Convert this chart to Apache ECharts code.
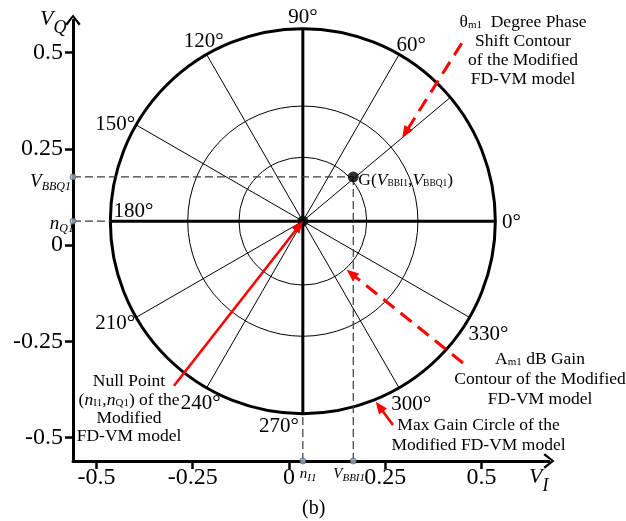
<!DOCTYPE html>
<html><head><meta charset="utf-8">
<script src="https://cdn.jsdelivr.net/npm/echarts@6/dist/echarts.min.js"></script>
<style>html,body{margin:0;padding:0;background:#fff}#c{width:626px;height:521px}</style>
</head><body><div id="c"></div>
<script>
// ---------------- data ----------------
const xTickValues = [-0.5, -0.25, 0, 0.25, 0.5];
const xTickLabels = ['-0.5', '-0.25', '0', '0.25', '0.5'];
const yTickValues = [-0.5, -0.25, 0, 0.25, 0.5];
const yTickLabels = ['-0.5', '-0.25', '0', '0.25', '0.5'];
const nullPoint = [0.036, 0.062];      // (nI1, nQ1)
const gPoint = [0.167, 0.177];         // (VBBI1, VBBQ1)
const gainCircleRadii = [0.166, 0.299];
const maxGainRadius = 0.5;
const thinSpokeAngles = [60, 120, 150, 210, 240, 300, 330];
const thickSpokeAngles = [0, 90, 180, 270];
const phaseContourAngle = 40;
const angleLabelValues = [0, 60, 90, 120, 150, 180, 210, 240, 270, 300, 330];

// ---------------- layout / style ----------------
const FONT = '"Liberation Serif", "Times New Roman", serif';
const X_MIN = -0.561, X_MAX = 0.6754, Y_MIN = -0.561, Y_MAX = 0.5845;
const angleLabelOffset = {0:[16,1],60:[12,-9],90:[0,-11],120:[-3,-13],150:[-21,0],180:[23,-10],
  210:[-21,6],240:[-6,16],270:[-24,13],300:[12,17],330:[19,17]};
const ARROW = 'path://M0,10 L8,0 L16,10 L14,11.5 L8,3.2 L2,11.5 Z';

function polar(angleDeg, r) {
  const a = angleDeg * Math.PI / 180;
  return [nullPoint[0] + r * Math.cos(a), nullPoint[1] + r * Math.sin(a)];
}
function lab(vals, labs, v) {
  for (let i = 0; i < vals.length; i++) if (Math.abs(vals[i] - v) < 1e-9) return labs[i];
  return '';
}
function T(extra) { return Object.assign({fontFamily: FONT, fill: '#000'}, extra); }
const rich = {
  r: T({fontSize: 17.5}),
  i: T({fontSize: 17.5, fontStyle: 'italic'}),
  s: T({fontSize: 11, padding: [7, 0, 0, 0]}),
  si: T({fontSize: 11, fontStyle: 'italic', padding: [7, 0, 0, 0]}),
  g: T({fontSize: 17.5}),
  gv: T({fontSize: 17.5, fontStyle: 'italic'}),
  gs: T({fontSize: 9.5, padding: [5, 0, 0, 0]}),
  av: T({fontSize: 19, fontStyle: 'italic'}),
  as: T({fontSize: 12, fontStyle: 'italic', padding: [9, 0, 0, 0]}),
  xv: T({fontSize: 15, fontStyle: 'italic'}),
  xs: T({fontSize: 11, fontStyle: 'italic', padding: [8, 0, 0, 0]}),
  nv: T({fontSize: 22, fontStyle: 'italic'}),
  ns: T({fontSize: 18, fontStyle: 'italic', padding: [18, 0, 0, 0]})
};

// annotations: text lines (pixel layout), arrow tail (pixel), arrow tip from data
const annotations = [
  {lines: ['{r|θ}{s|m1}{r|  Degree Phase}', '{r|Shift Contour}', '{r|of the Modified}', '{r|FD-VM model}'],
   cx: 523, y0: 22, lh: 19.3, tail: [461.7, 43.3], tip: () => polar(phaseContourAngle, 0.337), dashed: true},
  {lines: ['{r|A}{s|m1}{r| dB Gain}', '{r|Contour of the Modified}', '{r|FD-VM model}'],
   cx: 540, y0: 359, lh: 20, tail: [463, 363], tip: () => polar(-48, gainCircleRadii[0] + 0.004), dashed: true},
  {lines: ['{r|Max Gain Circle of the}', '{r|Modified FD-VM model}'],
   cx: 478.5, y0: 425.7, lh: 20, tail: [393, 425], tip: () => polar(-68, maxGainRadius + 0.006), dashed: false},
  {lines: ['{r|Null Point}', '{r|(}{i|n}{s|I1}{r|,}{i|n}{s|Q1}{r|) of the}', '{r|Modified}', '{r|FD-VM model}'],
   cx: 129, y0: 381.7, lh: 18.3, tail: [174, 385.7], tip: () => nullPoint, dashed: false}
];

function arrowEls(p0, p1, dashed) {
  const dx = p1[0] - p0[0], dy = p1[1] - p0[1], L = Math.hypot(dx, dy), ux = dx / L, uy = dy / L;
  const hl = 12, hw = 5;
  const bx = p1[0] - ux * hl, by = p1[1] - uy * hl;
  return [
    {type: 'line', shape: {x1: p0[0], y1: p0[1], x2: bx + ux * 1, y2: by + uy * 1},
     style: {stroke: '#ff0000', lineWidth: dashed ? 3 : 2.6, lineDash: dashed ? [14, 8] : null}},
    {type: 'polygon', shape: {points: [[p1[0], p1[1]], [bx - uy * hw, by + ux * hw], [bx + uy * hw, by - ux * hw]]},
     style: {fill: '#ff0000'}}
  ];
}

const chart = echarts.init(document.getElementById('c'), null, {renderer: 'canvas'});

const axisCommon = {
  type: 'value', splitLine: {show: false},
  axisLine: {onZero: false, symbol: ['none', ARROW], symbolSize: [16, 11], lineStyle: {color: '#000', width: 3}},
  axisTick: {length: 8, lineStyle: {color: '#000', width: 2.5}}
};

const option = {
  animation: false,
  backgroundColor: '#fff',
  textStyle: {fontFamily: FONT},
  grid: {left: 73, top: 20, width: 476, height: 441, containLabel: false, outerBoundsMode: 'none'},
  xAxis: Object.assign({}, axisCommon, {
    min: X_MIN, max: X_MAX,
    axisTick: Object.assign({}, axisCommon.axisTick, {customValues: xTickValues}),
    axisLabel: {customValues: xTickValues, formatter: v => lab(xTickValues, xTickLabels, v),
      fontSize: 24, color: '#000', fontFamily: FONT, margin: 5}
  }),
  yAxis: Object.assign({}, axisCommon, {
    min: Y_MIN, max: Y_MAX,
    axisTick: Object.assign({}, axisCommon.axisTick, {customValues: yTickValues}),
    axisLabel: {customValues: yTickValues, formatter: v => lab(yTickValues, yTickLabels, v),
      fontSize: 24, color: '#000', fontFamily: FONT, margin: 10}
  }),
  series: [
    { // gain circles + max gain circle
      type: 'custom', coordinateSystem: 'cartesian2d', z: 2,
      data: gainCircleRadii.concat([maxGainRadius]),
      renderItem: (params, api) => {
        const r = api.value(0);
        const c = api.coord(nullPoint);
        const rp = api.size([r, 0])[0];
        return {type: 'circle', shape: {cx: c[0], cy: c[1], r: rp},
          style: {fill: 'none', stroke: '#000', lineWidth: r === maxGainRadius ? 3 : 1}};
      }
    },
    { // thin spokes incl. phase contour
      type: 'custom', coordinateSystem: 'cartesian2d', z: 2,
      data: thinSpokeAngles.concat([phaseContourAngle]),
      renderItem: (params, api) => {
        const c = api.coord(nullPoint), e = api.coord(polar(api.value(0), maxGainRadius));
        return {type: 'line', shape: {x1: c[0], y1: c[1], x2: e[0], y2: e[1]}, style: {stroke: '#000', lineWidth: 1}};
      }
    },
    { // thick spokes
      type: 'custom', coordinateSystem: 'cartesian2d', z: 3,
      data: thickSpokeAngles,
      renderItem: (params, api) => {
        const c = api.coord(nullPoint), e = api.coord(polar(api.value(0), maxGainRadius));
        return {type: 'line', shape: {x1: c[0], y1: c[1], x2: e[0], y2: e[1]}, style: {stroke: '#000', lineWidth: 3}};
      }
    },
    { // angle labels
      type: 'custom', coordinateSystem: 'cartesian2d', z: 4,
      data: angleLabelValues,
      renderItem: (params, api) => {
        const a = api.value(0), p = api.coord(polar(a, maxGainRadius)), o = angleLabelOffset[a] || [0, 0];
        return {type: 'text', x: p[0] + o[0], y: p[1] + o[1],
          style: {text: a + '°', fontFamily: FONT, fontSize: 21, fill: '#000', align: 'center', verticalAlign: 'middle'}};
      }
    },
    { // dashed projection lines and axis labels
      type: 'custom', coordinateSystem: 'cartesian2d', z: 3,
      data: [0],
      renderItem: (params, api) => {
        const st = {stroke: '#3a3a3a', lineWidth: 1.2, lineDash: [8, 4]};
        const g = api.coord(gPoint);
        const gy0 = api.coord([X_MIN, gPoint[1]]), gx0 = api.coord([gPoint[0], Y_MIN]);
        const ny0 = api.coord([X_MIN, nullPoint[1]]), nl = api.coord([nullPoint[0] - maxGainRadius, nullPoint[1]]);
        const nx0 = api.coord([nullPoint[0], Y_MIN]), nb = api.coord([nullPoint[0], nullPoint[1] - maxGainRadius]);
        const L = (a, b) => ({type: 'line', shape: {x1: a[0], y1: a[1], x2: b[0], y2: b[1]}, style: st});
        const txt = (x, y, text, align) => ({type: 'text', x, y,
          style: {text, rich, align, verticalAlign: 'middle'}});
        return {type: 'group', children: [
          L(gy0, g), L(gx0, g), L(ny0, nl), L(nx0, nb),
          txt(gy0[0] - 2, gy0[1] + 5, '{av|V}{as|BBQ1}', 'right'),
          txt(ny0[0] + 1, ny0[1] + 3, '{av|n}{as|Q1}', 'right'),
          txt(nx0[0] - 3, nx0[1] + 13, '{xv|n}{xs|I1}', 'left'),
          txt(gx0[0] - 20, gx0[1] + 13, '{xv|V}{xs|BBI1}', 'left'),
          txt(g[0] + 5, g[1] + 4, '{g|G(}{gv|V}{gs|BBI1}{g|,}{gv|V}{gs|BBQ1}{g|)}', 'left')
        ]};
      }
    },
    { // null point and G point
      type: 'scatter', z: 5, symbol: 'circle', symbolSize: 11,
      itemStyle: {color: '#000'},
      data: [nullPoint, gPoint]
    },
    { // small markers on the axes
      type: 'scatter', z: 6, symbol: 'circle', symbolSize: 6,
      itemStyle: {color: '#9db2cc', borderColor: '#3d4a5c', borderWidth: 0.8},
      data: [[X_MIN, nullPoint[1]], [X_MIN, gPoint[1]], [nullPoint[0], Y_MIN], [gPoint[0], Y_MIN]]
    },
    { // annotations
      type: 'custom', coordinateSystem: 'cartesian2d', z: 7,
      data: annotations.map((a, i) => i),
      renderItem: (params, api) => {
        const an = annotations[api.value(0)];
        const children = arrowEls(an.tail, api.coord(an.tip()), an.dashed);
        an.lines.forEach((ln, k) => {
          children.push({type: 'text', x: an.cx, y: an.y0 + k * an.lh,
            style: {text: ln, rich, align: 'center', verticalAlign: 'middle'}});
        });
        return {type: 'group', children};
      }
    }
  ],
  graphic: [
    {type: 'text', left: 40, top: 8, style: {text: '{nv|V}{ns|Q}', rich}},
    {type: 'text', left: 529, top: 466, style: {text: '{nv|V}{ns|I}', rich}},
    {type: 'text', left: 302, top: 499, style: {text: '(b)', fontFamily: FONT, fontSize: 20, fill: '#000'}}
  ]
};
chart.setOption(option);
</script>
</body></html>
